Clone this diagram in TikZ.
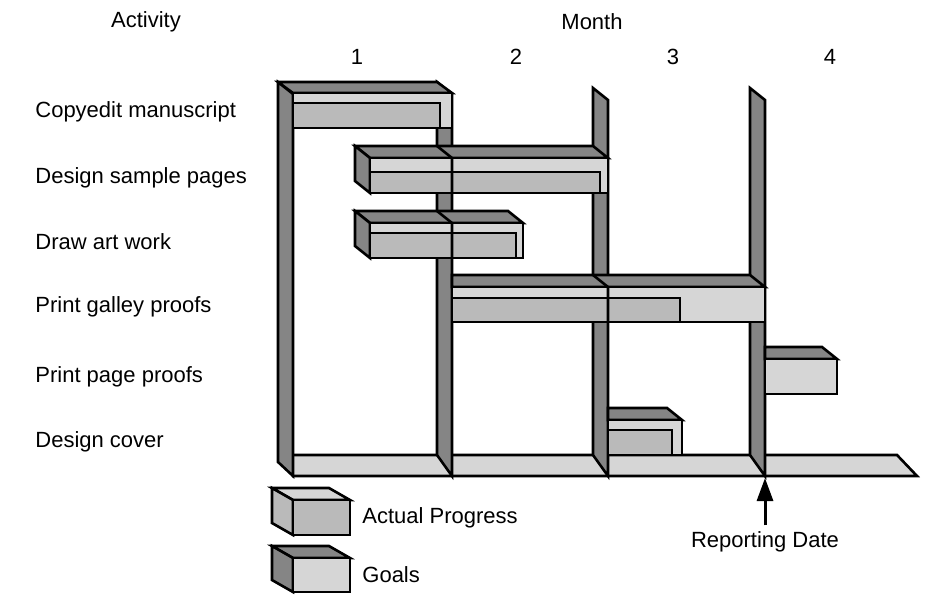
\documentclass[tikz,border=0pt]{standalone}
\usepackage{fontspec}
\setmainfont{Liberation Sans}
\usetikzlibrary{arrows.meta}

\colorlet{facedark}{black!48}
\colorlet{facelight}{black!16}
\colorlet{faceactual}{black!27}

\tikzset{
	outline/.style={line width=1.3pt, line join=miter, draw=black},
	rowlabel/.style={font=\fontsize{11}{13}\selectfont, inner sep=0pt},
}

% wall: front x, top (back) y, bottom (back) y
\def\wall(#1,#2,#3){\filldraw[outline, fill=facedark] ({#1-15},#2) -- (#1,{#2+12}) -- (#1,476) -- ({#1-15},#3) -- cycle;}
% goal box: front left x, front right x, front top y
\def\goalbox(#1,#2,#3){
	\filldraw[outline, fill=facedark] ({#1-15},{#3-12}) -- ({#2-15},{#3-12}) -- (#2,#3) -- (#1,#3) -- cycle;
	\filldraw[outline, fill=facedark] ({#1-15},{#3-12}) -- (#1,#3) -- (#1,{#3+35}) -- ({#1-15},{#3+23}) -- cycle;
	\filldraw[outline, fill=facelight] (#1,#3) rectangle (#2,{#3+35});}
% goal box that starts on a wall
\def\wallbox(#1,#2,#3){
	\filldraw[outline, fill=facedark] (#1,{#3-12}) -- ({#2-15},{#3-12}) -- (#2,#3) -- (#1,#3) -- cycle;
	\filldraw[outline, fill=facelight] (#1,#3) rectangle (#2,{#3+35});}
% actual progress: left x, right x, top y, bottom y
\def\actual(#1,#2,#3,#4){\filldraw[outline, fill=faceactual] (#1,#3) rectangle (#2,#4);}
% wall passing through a box: front x, front top y
\def\crossing(#1,#2){\draw[outline] ({#1-15},{#2-12}) -- (#1,#2) -- (#1,{#2+35});}

\begin{document}
\begin{tikzpicture}[x=0.5pt, y=-0.5pt]
	%%%%% START %%%%%
	\useasboundingbox (0,0) rectangle (927,595);
	
	% floor
	\filldraw[outline, fill=facelight] (285,455) -- (897,455) -- (917,476) -- (293,476) -- cycle;
	
	% month walls
	\wall(293,82,462)
	\wall(452,82,455)
	\wall(608,88,455)
	\wall(765,88,455)
	
	% copyedit manuscript
	\filldraw[outline, fill=facedark] (278,82) -- (437,82) -- (452,93) -- (293,93) -- cycle;
	\filldraw[outline, fill=facelight] (293,93) rectangle (452,128);
	\actual(293,440,103,128)
	
	% design sample pages
	\goalbox(370,608,158)
	\actual(370,600,172,193)
	\crossing(452,158)
	
	% draw art work
	\goalbox(370,523,223)
	\actual(370,516,233,258)
	\crossing(452,223)
	
	% print galley proofs
	\wallbox(452,765,287)
	\actual(452,680,298,322)
	\crossing(608,287)
	
	% print page proofs
	\wallbox(765,837,359)
	
	% design cover
	\wallbox(608,682,420)
	\actual(608,672,430,455)
	
	% legend
	\filldraw[outline, fill=facelight] (272,488) -- (329,488) -- (350,500) -- (293,500) -- cycle;
	\filldraw[outline, fill=faceactual] (272,488) -- (293,500) -- (293,535) -- (272,523) -- cycle;
	\filldraw[outline, fill=faceactual] (293,500) rectangle (350,535);
	\filldraw[outline, fill=facedark] (272,546) -- (329,546) -- (350,558) -- (293,558) -- cycle;
	\filldraw[outline, fill=facedark] (272,546) -- (293,558) -- (293,592) -- (272,580) -- cycle;
	\filldraw[outline, fill=facelight] (293,558) rectangle (350,592);
	\node[rowlabel, anchor=west] (actuallabel) at (362,518) {Actual Progress};
	\node[rowlabel, anchor=west] (goalslabel) at (362,575) {Goals};
	
	% headings
	\node[rowlabel] (activity) at (146,22) {Activity};
	\node[rowlabel] (month) at (592,22) {Month};
	\node[rowlabel] (m1) at (357,57) {1};
	\node[rowlabel] (m2) at (516,57) {2};
	\node[rowlabel] (m3) at (673,57) {3};
	\node[rowlabel] (m4) at (830,57) {4};
	
	% activities
	\node[rowlabel, anchor=west] (copyedit) at (35,112) {Copyedit manuscript};
	\node[rowlabel, anchor=west] (sample) at (35,178) {Design sample pages};
	\node[rowlabel, anchor=west] (artwork) at (35,242) {Draw art work};
	\node[rowlabel, anchor=west] (galley) at (35,307) {Print galley proofs};
	\node[rowlabel, anchor=west] (pageproofs) at (35,377) {Print page proofs};
	\node[rowlabel, anchor=west] (cover) at (35,442) {Design cover};
	
	% reporting date
	\coordinate (repdate) at (765,478);
	\node[rowlabel] (reporting) at (765,542) {Reporting Date};
	\draw[line width=1.5pt, -{Triangle[length=11.5pt, width=8pt]}] ([yshift=3pt]reporting.north) -- (repdate);
	
	%%%%% END %%%%%
\end{tikzpicture}
\end{document}
